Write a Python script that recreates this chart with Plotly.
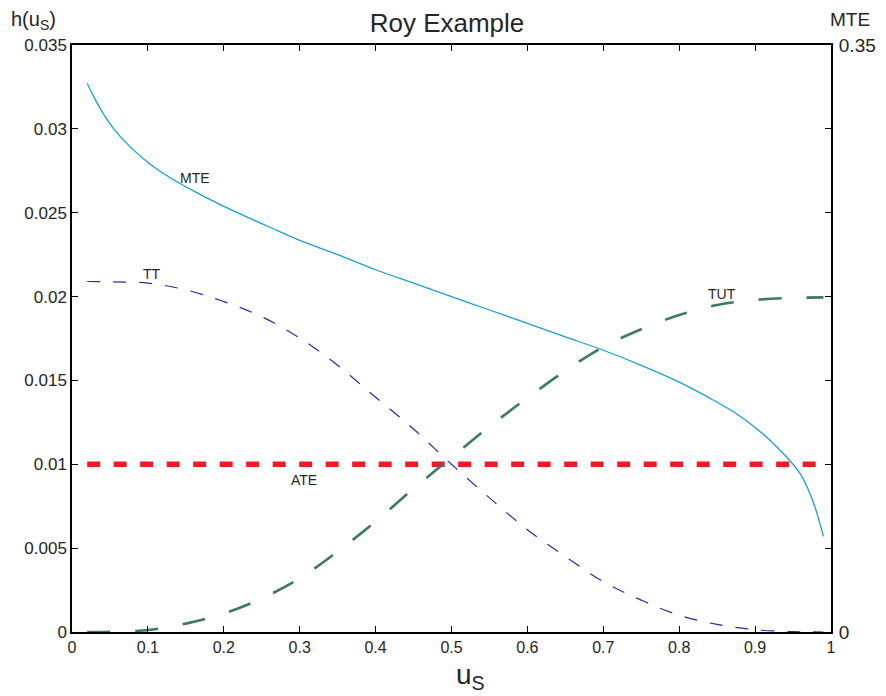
import plotly.graph_objects as go

# ---- data ----
mte_x = [0.02, 0.03, 0.04, 0.055, 0.075, 0.10, 0.12, 0.14, 0.16, 0.19, 0.23, 0.27, 0.30, 0.35,
         0.40, 0.45, 0.50, 0.55, 0.60, 0.65, 0.70, 0.75, 0.80, 0.85, 0.875, 0.90, 0.925, 0.95,
         0.96, 0.97, 0.98, 0.99]
mte_y = [0.0327, 0.0318, 0.0310, 0.0300, 0.0290, 0.0280, 0.02735, 0.0268, 0.0263, 0.0256,
         0.02475, 0.02395, 0.02335, 0.0225, 0.0216, 0.0208, 0.0200, 0.0192, 0.0184, 0.0176,
         0.0168, 0.0159, 0.0149, 0.0137, 0.01303, 0.0122, 0.0112, 0.0100, 0.0094, 0.0085,
         0.0073, 0.0057]

tt_x = [0.02, 0.05, 0.10, 0.15, 0.20, 0.25, 0.30, 0.35, 0.40, 0.45, 0.50, 0.55, 0.60, 0.65,
        0.70, 0.75, 0.80, 0.85, 0.90, 0.95, 0.99]
tt_y = [0.0209, 0.02088, 0.0208, 0.0204, 0.0197, 0.0188, 0.01753, 0.0159, 0.0140, 0.0121,
        0.0100, 0.0080, 0.0061, 0.0045, 0.0030, 0.0019, 0.0010, 0.00045, 0.00014, 0.00002, 0.0]

tut_x = [0.02, 0.05, 0.10, 0.15, 0.20, 0.25, 0.30, 0.35, 0.40, 0.45, 0.50, 0.55, 0.60, 0.65,
         0.70, 0.75, 0.80, 0.85, 0.90, 0.95, 0.99]
tut_y = [0.0, 0.00001, 0.00012, 0.0005, 0.0011, 0.0020, 0.0032, 0.0048, 0.0066, 0.00855,
         0.0104, 0.01225, 0.01396, 0.01558, 0.0170, 0.01805, 0.0189, 0.0195, 0.0198, 0.01992, 0.01995]

ate_x = [0.02, 0.99]
ate_y = [0.01, 0.01]

x_ticks = [0, 0.1, 0.2, 0.3, 0.4, 0.5, 0.6, 0.7, 0.8, 0.9, 1]
x_ticktext = ["0", "0.1", "0.2", "0.3", "0.4", "0.5", "0.6", "0.7", "0.8", "0.9", "1"]
y_ticks = [0, 0.005, 0.01, 0.015, 0.02, 0.025, 0.03, 0.035]
y_ticktext = ["0", "0.005", "0.01", "0.015", "0.02", "0.025", "0.03", "0.035"]
y2_ticks = [0, 0.35]
y2_ticktext = ["0", "0.35"]

labels = ["MTE", "TT", "TUT", "ATE"]
label_x = [0.162, 0.105, 0.857, 0.306]
label_y = [0.02707, 0.02135, 0.02018, 0.00909]

FONT = "Liberation Sans, Arial, Helvetica, sans-serif"
TXT = "#262626"

fig = go.Figure()
fig.add_trace(go.Scatter(x=ate_x, y=ate_y, mode="lines",
                         line=dict(color="#ed1c24", width=5.5, dash="13px,13.5px")))
fig.add_trace(go.Scatter(x=tt_x, y=tt_y, mode="lines", line_shape="spline",
                         line=dict(color="#2b2b9a", width=1.2, dash="13px,13px")))
fig.add_trace(go.Scatter(x=tut_x, y=tut_y, mode="lines", line_shape="spline",
                         line=dict(color="#3f7a5c", width=2.6, dash="23px,25px")))
fig.add_trace(go.Scatter(x=mte_x, y=mte_y, mode="lines", line_shape="spline",
                         line=dict(color="#1aa0d2", width=1.3, smoothing=0.8)))
# invisible trace to activate the right-hand axis
fig.add_trace(go.Scatter(x=[0.5], y=[0.1], yaxis="y2", mode="markers",
                         marker=dict(opacity=0), showlegend=False, hoverinfo="skip"))

for t, lx, ly in zip(labels, label_x, label_y):
    fig.add_annotation(x=lx, y=ly, text=t, showarrow=False,
                       font=dict(family=FONT, size=14, color=TXT))

fig.add_annotation(xref="paper", yref="paper", x=-0.083, y=1.0, yshift=25,
                   xanchor="left", yanchor="middle", showarrow=False,
                   text="h(u<sub>S</sub>)", font=dict(family=FONT, size=20, color=TXT))
fig.add_annotation(xref="paper", yref="paper", x=1.0, y=1.0, xshift=-3, yshift=26,
                   xanchor="left", yanchor="middle", showarrow=False,
                   text="MTE", font=dict(family=FONT, size=19, color=TXT))
fig.add_annotation(xref="paper", yref="paper", x=0.5, y=0.0, xshift=19, yshift=-44,
                   xanchor="center", yanchor="middle", showarrow=False,
                   text="u<sub>S</sub>", font=dict(family=FONT, size=28, color=TXT))

# the page body adds an 8px offset; the figure is sized to fit inside the window
fig.update_layout(
    width=878, height=688,
    margin=dict(l=64, r=55, t=37, b=64, autoexpand=False),
    paper_bgcolor="white", plot_bgcolor="white",
    showlegend=False,
    title=dict(text="Roy Example", x=0.5, xanchor="center", y=0.978, yanchor="middle",
               font=dict(family=FONT, size=26, color=TXT)),
    xaxis=dict(range=[0, 1], tickvals=x_ticks, ticktext=x_ticktext, automargin=False,
               showline=True, linecolor="black", linewidth=1.5, mirror="ticks",
               ticks="inside", ticklen=6, tickcolor="black", tickwidth=1.2,
               showgrid=False, zeroline=False,
               tickfont=dict(family=FONT, size=16, color=TXT)),
    yaxis=dict(range=[0, 0.035], tickvals=y_ticks, ticktext=y_ticktext, automargin=False,
               showline=True, linecolor="black", linewidth=1.5, mirror="ticks",
               ticks="inside", ticklen=6, tickcolor="black", tickwidth=1.2,
               showgrid=False, zeroline=False,
               tickfont=dict(family=FONT, size=17, color=TXT)),
    yaxis2=dict(range=[0, 0.35], overlaying="y", side="right", automargin=False,
                tickvals=y2_ticks, ticktext=y2_ticktext, showline=False,
                ticks="outside", ticklen=3, tickcolor="rgba(0,0,0,0)",
                showgrid=False, zeroline=False,
                tickfont=dict(family=FONT, size=19, color=TXT)),
)

fig.write_html("out.html")
